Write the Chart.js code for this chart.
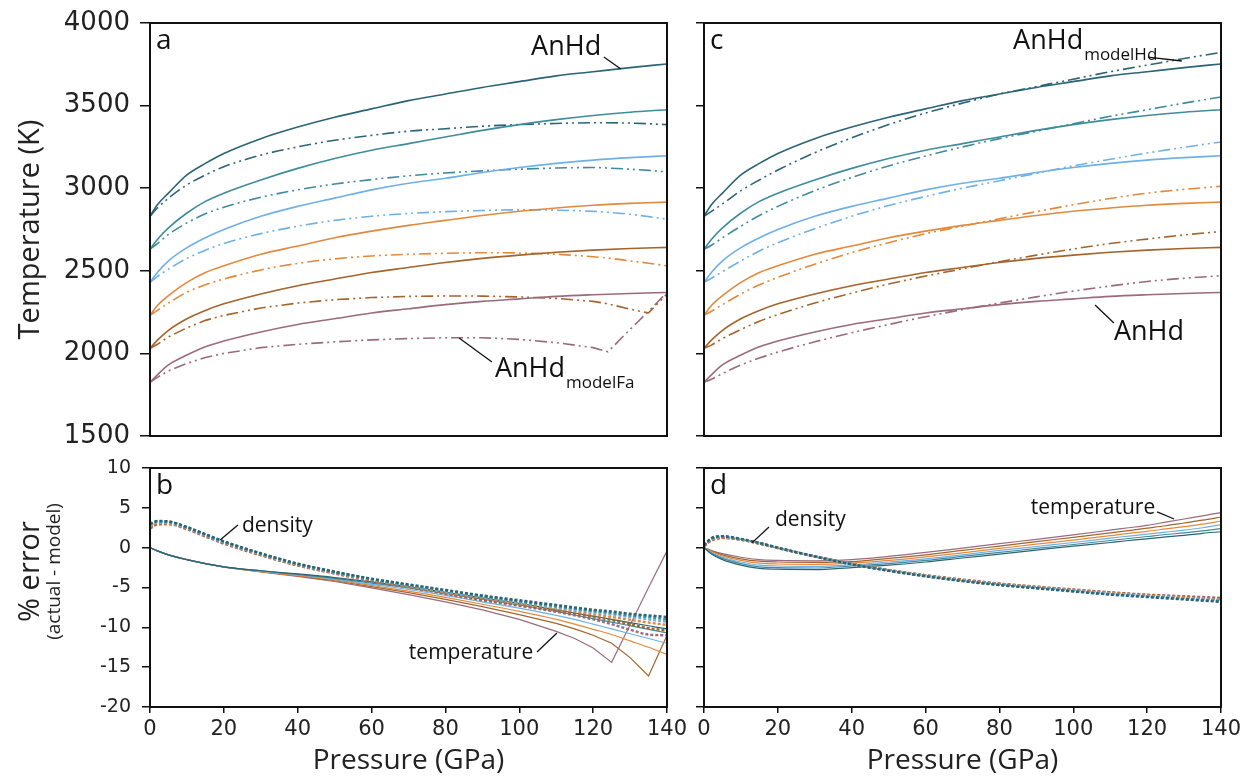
<!DOCTYPE html>
<html>
<head>
<meta charset="utf-8">
<script src="https://cdn.jsdelivr.net/npm/chart.js@4.4.1/dist/chart.umd.min.js"></script>
<style>
    body { margin: 0; background: #fff; }
    #wrap { position: relative; width: 1242px; height: 780px; overflow: hidden; }
    canvas { position: absolute; }
</style>
</head>
<body>
<div id="wrap">
    <canvas id="panelA" width="690" height="450" style="left:0;top:0"></canvas>
    <canvas id="panelB" width="690" height="330" style="left:0;top:450px"></canvas>
    <canvas id="panelC" width="550" height="450" style="left:692px;top:0"></canvas>
    <canvas id="panelD" width="550" height="330" style="left:692px;top:450px"></canvas>
</div>
<script>
'use strict'

// pressure grids (GPa)
const pressureT = [0, 2, 5, 10, 15, 20, 30, 40, 50, 60, 70, 80, 90, 100, 110, 120, 130, 140]
const pressureFa = [0, 2, 5, 10, 15, 20, 30, 40, 50, 60, 70, 80, 90, 100, 110, 120, 124, 130, 135, 140]
const pressureE = [0, 2, 5, 10, 15, 20, 30, 40, 50, 60, 70, 80, 90, 100, 110, 115, 120, 125, 130, 135, 140]

// AnHd temperatures (K), hottest to coolest
const tempActual1 = [2830, 2900, 2970, 3080, 3150, 3210, 3300, 3370, 3430, 3480, 3530, 3570, 3610, 3645, 3680, 3705, 3730, 3752]
const tempActual2 = [2630, 2690, 2760, 2850, 2920, 2970, 3050, 3120, 3180, 3230, 3270, 3310, 3350, 3385, 3415, 3440, 3460, 3475]
const tempActual3 = [2430, 2490, 2560, 2640, 2700, 2750, 2830, 2890, 2940, 2990, 3030, 3060, 3095, 3125, 3150, 3170, 3185, 3196]
const tempActual4 = [2230, 2290, 2350, 2430, 2490, 2530, 2600, 2650, 2700, 2740, 2775, 2805, 2835, 2860, 2880, 2897, 2908, 2916]
const tempActual5 = [2030, 2080, 2140, 2210, 2260, 2300, 2360, 2410, 2450, 2490, 2520, 2550, 2575, 2595, 2612, 2625, 2635, 2642]
const tempActual6 = [1825, 1870, 1930, 1990, 2040, 2075, 2130, 2175, 2210, 2245, 2270, 2295, 2315, 2330, 2345, 2355, 2363, 2369]

// AnHd modelFa (panel a)
const modelFa1 = [2830, 2880, 2940, 3020, 3080, 3130, 3200, 3250, 3290, 3320, 3345, 3360, 3375, 3385, 3392, 3396, 3396, 3394, 3390, 3385]
const modelFa2 = [2630, 2665, 2720, 2790, 2845, 2885, 2945, 2990, 3025, 3052, 3075, 3092, 3105, 3115, 3122, 3125, 3122, 3115, 3108, 3098]
const modelFa3 = [2430, 2465, 2510, 2575, 2625, 2665, 2725, 2770, 2805, 2830, 2847, 2858, 2865, 2869, 2867, 2860, 2854, 2842, 2828, 2812]
const modelFa4 = [2230, 2260, 2305, 2370, 2415, 2450, 2505, 2545, 2572, 2590, 2600, 2606, 2609, 2608, 2600, 2585, 2577, 2560, 2546, 2530]
const modelFa5 = [2030, 2055, 2100, 2155, 2200, 2230, 2275, 2305, 2325, 2338, 2345, 2348, 2347, 2342, 2333, 2315, 2300, 2268, 2245, 2360]
const modelFa6 = [1825, 1855, 1895, 1940, 1975, 2000, 2035, 2055, 2070, 2082, 2090, 2095, 2095, 2085, 2065, 2035, 2010, 2145, 2255, 2369]

// AnHd modelHd (panel c)
const modelHd1 = [2830, 2860, 2905, 2985, 3050, 3110, 3215, 3305, 3385, 3455, 3515, 3570, 3615, 3660, 3705, 3745, 3785, 3822]
const modelHd2 = [2630, 2655, 2700, 2770, 2835, 2890, 2985, 3065, 3135, 3195, 3250, 3300, 3345, 3390, 3435, 3475, 3515, 3552]
const modelHd3 = [2430, 2455, 2495, 2560, 2620, 2670, 2755, 2830, 2895, 2950, 3000, 3045, 3090, 3135, 3175, 3213, 3248, 3280]
const modelHd4 = [2230, 2255, 2295, 2360, 2415, 2460, 2540, 2610, 2670, 2725, 2770, 2815, 2858, 2900, 2938, 2970, 2993, 3012]
const modelHd5 = [2030, 2050, 2090, 2145, 2195, 2235, 2305, 2365, 2420, 2468, 2512, 2555, 2595, 2632, 2665, 2692, 2717, 2738]
const modelHd6 = [1825, 1843, 1878, 1930, 1972, 2008, 2070, 2125, 2175, 2222, 2265, 2305, 2342, 2377, 2408, 2435, 2455, 2470]

// % error, panel b (modelFa)
const densB1 = [3.0, 3.35, 3.3, 2.6, 1.7, 0.8, -0.7, -2.0, -3.0, -3.9, -4.6, -5.3, -6.0, -6.6, -7.2, -7.5, -7.8, -8.0, -8.3, -8.5, -8.7]
const densB2 = [2.9, 3.3, 3.25, 2.55, 1.65, 0.75, -0.75, -2.05, -3.05, -3.95, -4.7, -5.4, -6.1, -6.75, -7.35, -7.65, -7.95, -8.2, -8.5, -8.7, -9.0]
const densB3 = [2.8, 3.2, 3.15, 2.5, 1.6, 0.7, -0.8, -2.1, -3.1, -4.0, -4.75, -5.5, -6.2, -6.85, -7.5, -7.8, -8.1, -8.4, -8.7, -9.0, -9.3]
const densB4 = [2.65, 3.1, 3.05, 2.45, 1.55, 0.65, -0.85, -2.15, -3.15, -4.05, -4.85, -5.6, -6.3, -7.0, -7.65, -8.0, -8.35, -8.7, -9.05, -9.4, -9.7]
const densB5 = [2.5, 3.0, 3.0, 2.4, 1.5, 0.6, -0.9, -2.2, -3.2, -4.1, -4.9, -5.7, -6.45, -7.15, -7.85, -8.25, -8.65, -9.1, -9.6, -10.1, -10.4]
const densB6 = [2.4, 2.9, 2.95, 2.3, 1.4, 0.5, -0.95, -2.25, -3.25, -4.2, -5.0, -5.8, -6.6, -7.3, -8.05, -8.5, -9.0, -9.6, -10.3, -10.9, -11.0]

const tempB1 = [0, -0.4, -0.9, -1.5, -2.0, -2.4, -2.9, -3.3, -3.75, -4.3, -4.9, -5.6, -6.3, -7.0, -7.8, -8.2, -8.6, -9.0, -9.4, -9.8, -10.2]
const tempB2 = [0, -0.4, -0.9, -1.5, -2.0, -2.4, -2.9, -3.35, -3.85, -4.45, -5.05, -5.75, -6.45, -7.2, -8.0, -8.45, -8.9, -9.35, -9.8, -10.25, -10.7]
const tempB3 = [0, -0.4, -0.9, -1.5, -2.0, -2.4, -2.95, -3.4, -3.95, -4.6, -5.25, -6.0, -6.8, -7.6, -8.5, -9.0, -9.6, -10.2, -10.8, -11.4, -12.0]
const tempB4 = [0, -0.4, -0.9, -1.5, -2.0, -2.4, -3.0, -3.5, -4.05, -4.75, -5.45, -6.25, -7.1, -8.0, -9.0, -9.6, -10.25, -10.9, -11.7, -12.5, -13.4]
const tempB5 = [0, -0.4, -0.9, -1.5, -2.0, -2.45, -3.0, -3.55, -4.15, -4.9, -5.65, -6.5, -7.4, -8.4, -9.5, -10.2, -11.0, -12.0, -13.8, -16.1, -11.0]
const tempB6 = [0, -0.4, -0.9, -1.5, -2.0, -2.45, -3.05, -3.6, -4.25, -5.05, -5.9, -6.8, -7.8, -9.0, -10.5, -11.4, -12.6, -14.4, -9.7, -5.0, -0.4]

// % error, panel d (modelHd)
const densD1 = [0.3, 1.2, 1.45, 1.1, 0.6, 0.0, -1.1, -2.1, -2.9, -3.6, -4.2, -4.7, -5.1, -5.5, -5.9, -6.05, -6.2, -6.35, -6.5, -6.65, -6.8]
const densD2 = [0.3, 1.15, 1.4, 1.07, 0.58, -0.01, -1.1, -2.08, -2.88, -3.57, -4.16, -4.66, -5.06, -5.45, -5.84, -5.99, -6.14, -6.28, -6.42, -6.57, -6.7]
const densD3 = [0.28, 1.08, 1.35, 1.05, 0.56, -0.02, -1.1, -2.06, -2.86, -3.54, -4.12, -4.61, -5.01, -5.4, -5.77, -5.92, -6.07, -6.2, -6.34, -6.48, -6.6]
const densD4 = [0.25, 1.0, 1.3, 1.03, 0.54, -0.03, -1.1, -2.04, -2.84, -3.51, -4.08, -4.57, -4.97, -5.35, -5.71, -5.86, -6.0, -6.12, -6.26, -6.38, -6.5]
const densD5 = [0.22, 0.95, 1.25, 1.01, 0.52, -0.04, -1.1, -2.02, -2.82, -3.48, -4.04, -4.53, -4.93, -5.3, -5.65, -5.8, -5.95, -6.06, -6.18, -6.3, -6.4]
const densD6 = [0.2, 0.9, 1.2, 1.0, 0.5, -0.05, -1.1, -2.0, -2.8, -3.45, -4.0, -4.5, -4.9, -5.25, -5.6, -5.75, -5.9, -6.0, -6.1, -6.2, -6.3]

const tempD1 = [0, -0.8, -1.5, -2.2, -2.6, -2.7, -2.75, -2.5, -2.2, -1.8, -1.3, -0.8, -0.3, 0.2, 0.65, 0.9, 1.1, 1.35, 1.55, 1.8, 2.0]
const tempD2 = [0, -0.7, -1.35, -2.0, -2.4, -2.5, -2.55, -2.3, -2.0, -1.6, -1.1, -0.6, -0.1, 0.4, 0.9, 1.15, 1.4, 1.65, 1.85, 2.1, 2.4]
const tempD3 = [0, -0.6, -1.2, -1.8, -2.2, -2.3, -2.35, -2.15, -1.8, -1.4, -0.9, -0.35, 0.15, 0.65, 1.2, 1.45, 1.7, 1.95, 2.2, 2.5, 2.9]
const tempD4 = [0, -0.5, -1.05, -1.6, -1.95, -2.05, -2.1, -1.95, -1.6, -1.15, -0.65, -0.1, 0.45, 0.95, 1.5, 1.8, 2.05, 2.35, 2.65, 2.95, 3.35]
const tempD5 = [0, -0.4, -0.9, -1.4, -1.7, -1.8, -1.85, -1.75, -1.35, -0.9, -0.35, 0.2, 0.75, 1.3, 1.85, 2.15, 2.45, 2.75, 3.1, 3.45, 3.85]
const tempD6 = [0, -0.35, -0.75, -1.2, -1.5, -1.6, -1.65, -1.5, -1.1, -0.6, -0.05, 0.5, 1.05, 1.6, 2.2, 2.5, 2.8, 3.2, 3.6, 4.0, 4.4]

const tempTicks = [1500, 2000, 2500, 3000, 3500, 4000]
const errorTicks = [-20, -15, -10, -5, 0, 5, 10]

const colors = ['#2b6475', '#3e8c9c', '#6fb0e6', '#e3893b', '#a4642c', '#9b6b7d']
const dashDot = [12, 4, 2, 4, 2, 4]
const tickFont = 'DejaVu Sans'
const textFont = 'Open Sans'


function toPoints(xs, ys) {
    return xs.map((x, i) => ({ x: x, y: ys[i] }))
}

function lineSet(xs, ys, color, style, sharp) {
    const ds = {
        data: toPoints(xs, ys),
        borderColor: color,
        borderWidth: 1.6,
        pointRadius: 0,
        fill: false
    }
    if (style === 'dashdot') ds.borderDash = dashDot
    if (style === 'density') {
        ds.borderDash = [3, 2]
        ds.borderWidth = 2.4
    }
    if (style === 'thin') ds.borderWidth = 1.2
    if (sharp) ds.tension = 0
    else ds.cubicInterpolationMode = 'monotone'
    return ds
}

const panelDecor = {
    id: 'panelDecor',
    afterDatasetsDraw(chart, args, opts) {
        const ctx = chart.ctx
        const area = chart.chartArea
        const xs = chart.scales.x
        const ys = chart.scales.y
        ctx.save()
        ctx.strokeStyle = '#111'
        ctx.lineWidth = 2
        ctx.strokeRect(area.left, area.top, area.right - area.left, area.bottom - area.top)

        ctx.fillStyle = '#111'
        ctx.textAlign = 'left'
        ctx.textBaseline = 'alphabetic'
        ctx.font = '28px "' + textFont + '"'
        ctx.fillText(opts.letter, area.left + 6, area.top + 26)

        const notes = opts.notes || []
        notes.forEach(n => {
            if (n.lead) {
                ctx.beginPath()
                ctx.moveTo(xs.getPixelForValue(n.lead[0]), ys.getPixelForValue(n.lead[1]))
                ctx.lineTo(xs.getPixelForValue(n.lead[2]), ys.getPixelForValue(n.lead[3]))
                ctx.lineWidth = 1.3
                ctx.strokeStyle = '#111'
                ctx.stroke()
            }
            const x = xs.getPixelForValue(n.p)
            const y = ys.getPixelForValue(n.v)
            ctx.font = n.size + 'px "' + textFont + '"'
            ctx.textBaseline = 'middle'
            ctx.fillText(n.text, x, y)
            if (n.sub) {
                const w = ctx.measureText(n.text).width
                ctx.font = n.subSize + 'px "' + textFont + '"'
                ctx.fillText(n.sub, x + w + 1, y + n.size * 0.54)
            }
        })

        const side = opts.sideTitle
        if (side) {
            side.forEach(t => {
                ctx.save()
                ctx.translate(t.x, (area.top + area.bottom) / 2 + t.dy)
                ctx.rotate(-Math.PI / 2)
                ctx.textAlign = 'center'
                ctx.textBaseline = 'middle'
                ctx.font = t.size + 'px "' + textFont + '"'
                ctx.fillStyle = '#222'
                ctx.fillText(t.text, 0, 0)
                ctx.restore()
            })
        }
        ctx.restore()
    }
}

function makePanel(canvasId, cfg) {
    const ctx = document.getElementById(canvasId).getContext('2d')
    return new Chart(ctx, {
        type: 'line',
        data: { datasets: cfg.datasets },
        options: {
            responsive: false,
            animation: false,
            events: [],
            layout: { padding: cfg.padding },
            plugins: {
                legend: { display: false },
                tooltip: { enabled: false },
                panelDecor: cfg.decor
            },
            scales: {
                x: {
                    type: 'linear',
                    min: 0,
                    max: 140,
                    ticks: {
                        stepSize: 20,
                        display: cfg.xLabels,
                        autoSkip: false,
                        maxRotation: 0,
                        padding: 4,
                        color: '#222',
                        font: { family: tickFont, size: 21 },
                        callback: v => String(v)
                    },
                    grid: { drawOnChartArea: false, drawTicks: cfg.xLabels, tickLength: 6, color: '#111', lineWidth: 1.5 },
                    border: { display: false },
                    title: {
                        display: cfg.xLabels,
                        text: 'Pressure (GPa)',
                        color: '#222',
                        font: { family: textFont, size: 28 },
                        padding: { top: 0, bottom: 2 }
                    },
                    afterFit: s => {
                        s.height = cfg.xHeight
                        s.paddingLeft = 0
                        s.paddingRight = 0
                    }
                },
                y: {
                    type: 'linear',
                    min: cfg.yTicks[0],
                    max: cfg.yTicks[cfg.yTicks.length - 1],
                    afterBuildTicks: s => { s.ticks = cfg.yTicks.map(v => ({ value: v })) },
                    ticks: {
                        display: cfg.yLabels,
                        padding: cfg.yPad,
                        color: '#222',
                        font: { family: tickFont, size: cfg.yFont },
                        callback: v => String(v)
                    },
                    grid: { drawOnChartArea: false, drawTicks: true, tickLength: cfg.yTickLen, color: '#111', lineWidth: 1.5 },
                    border: { display: false },
                    title: {
                        display: !!cfg.yTitle,
                        text: cfg.yTitle || '',
                        color: '#222',
                        font: { family: textFont, size: 29 },
                        padding: { top: 13, bottom: 0 }
                    },
                    afterFit: s => {
                        s.width = cfg.yWidth
                        s.paddingTop = 0
                        s.paddingBottom = 0
                    }
                }
            }
        },
        plugins: [panelDecor]
    })
}

document.addEventListener('DOMContentLoaded', () => {
    const actual = [tempActual1, tempActual2, tempActual3, tempActual4, tempActual5, tempActual6]
    const fa = [modelFa1, modelFa2, modelFa3, modelFa4, modelFa5, modelFa6]
    const hd = [modelHd1, modelHd2, modelHd3, modelHd4, modelHd5, modelHd6]
    const densB = [densB1, densB2, densB3, densB4, densB5, densB6]
    const tempB = [tempB1, tempB2, tempB3, tempB4, tempB5, tempB6]
    const densD = [densD1, densD2, densD3, densD4, densD5, densD6]
    const tempD = [tempD1, tempD2, tempD3, tempD4, tempD5, tempD6]

    const setsA = []
    actual.forEach((ys, i) => setsA.push(lineSet(pressureT, ys, colors[i], 'solid')))
    fa.forEach((ys, i) => setsA.push(lineSet(pressureFa, ys, colors[i], 'dashdot', i >= 4)))

    const setsC = []
    actual.forEach((ys, i) => setsC.push(lineSet(pressureT, ys, colors[i], 'solid')))
    hd.forEach((ys, i) => setsC.push(lineSet(pressureT, ys, colors[i], 'dashdot')))

    const setsB = []
    densB.forEach((ys, i) => setsB.push(lineSet(pressureE, ys, colors[i], 'density')))
    tempB.forEach((ys, i) => setsB.push(lineSet(pressureE, ys, colors[i], 'thin', i >= 4)))

    const setsD = []
    densD.forEach((ys, i) => setsD.push(lineSet(pressureE, ys, colors[i], 'density')))
    tempD.forEach((ys, i) => setsD.push(lineSet(pressureE, ys, colors[i], 'thin')))

    makePanel('panelA', {
        datasets: setsA,
        padding: { top: 23, right: 23, left: 0, bottom: 0 },
        xLabels: false, xHeight: 14,
        yTicks: tempTicks, yLabels: true, yFont: 26, yPad: 10, yTickLen: 10, yWidth: 150,
        yTitle: 'Temperature (K)',
        decor: {
            letter: 'a',
            notes: [
                { text: 'AnHd', p: 103.2, v: 3855, size: 27, lead: [122.9, 3794, 127.5, 3722] },
                { text: 'AnHd', sub: 'modelFa', p: 93.4, v: 1906, size: 27, subSize: 17, lead: [83.7, 2093, 92.6, 1948] }
            ]
        }
    })

    makePanel('panelB', {
        datasets: setsB,
        padding: { top: 18, right: 23, left: 0, bottom: 0 },
        xLabels: true, xHeight: 73,
        yTicks: errorTicks, yLabels: true, yFont: 19, yPad: 11, yTickLen: 8, yWidth: 150,
        decor: {
            letter: 'b',
            notes: [
                { text: 'density', p: 24.9, v: 2.72, size: 21, lead: [23.8, 2.85, 19.0, 0.97] },
                { text: 'temperature', p: 70.1, v: -13.2, size: 21, lead: [104.8, -13.1, 110.2, -10.7] }
            ],
            sideTitle: [
                { text: '% error', x: 31, dy: -16, size: 29 },
                { text: '(actual - model)', x: 55, dy: -16, size: 19 }
            ]
        }
    })

    makePanel('panelC', {
        datasets: setsC,
        padding: { top: 23, right: 21, left: 0, bottom: 0 },
        xLabels: false, xHeight: 14,
        yTicks: tempTicks, yLabels: false, yFont: 24, yPad: 0, yTickLen: 8, yWidth: 12,
        decor: {
            letter: 'c',
            notes: [
                { text: 'AnHd', sub: 'modelHd', p: 83.7, v: 3891, size: 27, subSize: 17, lead: [120.2, 3794, 129.4, 3770] },
                { text: 'AnHd', p: 111.0, v: 2130, size: 27, lead: [105.9, 2293, 111.0, 2184] }
            ]
        }
    })

    makePanel('panelD', {
        datasets: setsD,
        padding: { top: 18, right: 21, left: 0, bottom: 0 },
        xLabels: true, xHeight: 73,
        yTicks: errorTicks, yLabels: false, yFont: 19, yPad: 0, yTickLen: 8, yWidth: 12,
        decor: {
            letter: 'd',
            notes: [
                { text: 'density', p: 19.2, v: 3.5, size: 21, lead: [17.6, 2.6, 13.0, 0.6] },
                { text: 'temperature', p: 88.5, v: 5.0, size: 21, lead: [122.7, 4.5, 127.3, 3.6] }
            ]
        }
    })
})
</script>
</body>
</html>
